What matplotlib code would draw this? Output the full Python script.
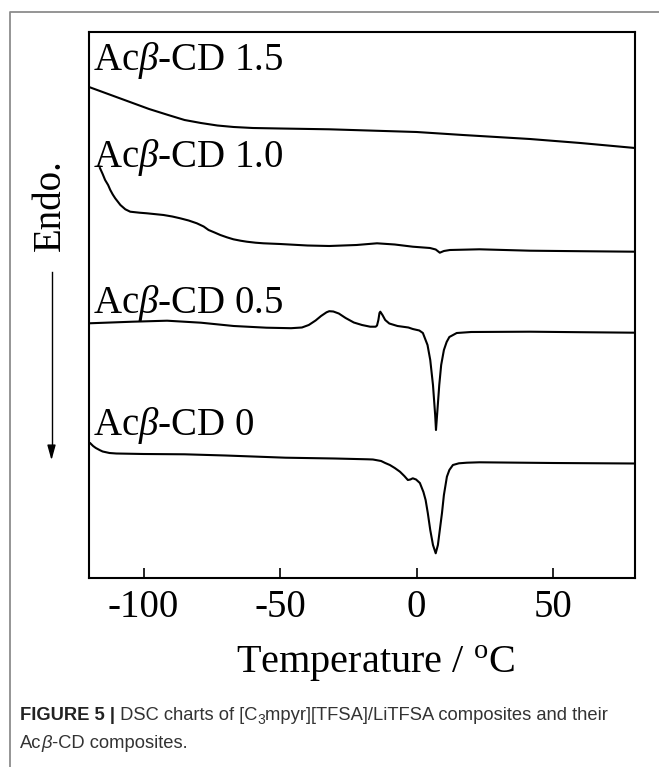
import matplotlib
matplotlib.use("Agg")
import matplotlib.pyplot as plt
from matplotlib.transforms import IdentityTransform
from matplotlib.lines import Line2D

plt.rcParams['font.family'] = 'Liberation Serif'
plt.rcParams['mathtext.fontset'] = 'custom'
plt.rcParams['mathtext.rm'] = 'Liberation Serif'
plt.rcParams['mathtext.it'] = 'Liberation Serif:italic'
plt.rcParams['mathtext.bf'] = 'Liberation Serif:bold'

# DSC traces (temperature in C, heat flow in a.u., offset)
t_15 = [-120, -116, -112, -108, -104, -98, -91, -85, -79, -73, -67, -60, -50, -32, 0, 17, 41.5, 60, 80]
h_15 = [491, 487, 483, 479, 475, 469, 463, 458, 455, 452.5, 451, 450, 449.5, 448.7, 446, 443, 439, 435, 430]

t_10 = [-116, -115, -114.1, -113, -112.2, -111.3, -110.4, -108.5, -106.7, -104.9, -101.5, -98.8,
        -92.7, -89.5, -86.6, -83.5, -80.5, -78, -76.2, -74, -71.9, -69.5, -67.1, -64.5, -62.2,
        -59, -56.1, -50, -40, -32, -22, -14.5, -8, -1.4, 4.9, 7, 8.5, 10, 12.2, 23,
        41.5, 60, 80]
h_10 = [410, 404, 398, 393, 388, 383.5, 379.7, 373, 368.7, 366.3, 365.3, 364.7,
        363, 361.5, 359.7, 357.5, 354.7, 351.5, 348, 345.5, 343, 340.7, 338.7, 337.3, 336.3,
        335.3, 334.7, 334, 332.5, 332, 333, 334.7, 333.5, 331.3, 330, 328.5, 325.3, 327, 328, 328.7,
        327.3, 326.8, 326.3]

t_05 = [-120, -104, -91.4, -79, -67, -55, -46, -42, -39.5, -37, -35, -33, -32, -30.5,
        -28.5, -26, -23, -20, -17, -15, -14.5, -14, -13.6, -13.3, -12.5, -11.5, -10, -7,
        -3, -1.4, 1, 2.3, 4, 5, 6, 6.8, 7.1, 7.5, 8.3, 9, 10, 11, 12, 14.7, 20, 41.5, 60, 80]
h_05 = [254.7, 256.3, 257.3, 255.3, 252, 250.3, 249.8, 250.5, 253, 257.5, 262, 265.7, 266.8, 266.5,
        264.5, 260, 255.5, 253, 251.3, 251.3, 252.5, 258, 265, 266.3, 263, 258, 254.5, 252,
        250.5, 249, 247.5, 245, 233, 218, 193, 163, 148, 163, 193, 213, 228, 236, 241, 245,
        246, 246.3, 245.8, 245.3]

t_00 = [-119.5, -118.5, -117.5, -116, -115, -112.5, -110, -100, -85, -70, -48, -30, -18,
        -16, -13, -11.5, -9.8, -8, -6.1, -4.5, -3.2, -2.3, -1.4, -0.2, 1.2, 2.5, 3.3, 4.1,
        5, 6, 7, 7.8, 8.5, 9.3, 10, 11.1, 12, 13.3, 15.5, 18.4, 23, 50, 80]
h_00 = [134.7, 132, 130, 127.8, 126.5, 125, 124.5, 124, 123.7, 122.5, 120.3, 119.5, 118.7,
        118.5, 117, 115, 113, 110, 106.3, 102, 98, 98.5, 99.7, 98.5, 95, 86, 78, 65,
        48, 33, 24.7, 33, 48, 65, 83, 101.3, 108, 113, 114.7, 115.3, 115.7, 115, 114.5]

curve_labels = ['Ac$\\beta$-CD 1.5', 'Ac$\\beta$-CD 1.0', 'Ac$\\beta$-CD 0.5', 'Ac$\\beta$-CD 0']
label_h = [508, 411, 265, 143]
xticks = [-100, -50, 0, 50]

W, H = 659, 767
fig = plt.figure(figsize=(W / 100, H / 100), dpi=100)
ax = fig.add_axes([89 / W, (H - 578) / H, (635 - 89) / W, (578 - 32) / H])

for t, h in [(t_15, h_15), (t_10, h_10), (t_05, h_05), (t_00, h_00)]:
    ax.plot(t, h, color='black', lw=1.5, solid_joinstyle='round')

for lab, y in zip(curve_labels, label_h):
    ax.text(-118.4, y, lab, fontsize=28, va='baseline', ha='left')

ax.set_xlim(-120, 80)
ax.set_ylim(0, 546)
ax.set_xticks(xticks)
ax.set_xticklabels([str(v) for v in xticks])
ax.set_yticks([])
ax.tick_params(axis='x', direction='in', length=7, width=1.2, labelsize=28, pad=8)
for s in ax.spines.values():
    s.set_linewidth(1.5)
ax.set_xlabel('Temperature / $^{\\rm o}$C', fontsize=29, labelpad=13)
ax.xaxis.label.set_x(0.525)

# y label and arrow
fig.text(50 / W, (H - 205) / H, 'Endo.', fontsize=28, rotation=90, ha='center', va='center')
fig.add_artist(Line2D([51.5, 51.5], [H - 272, H - 450], transform=IdentityTransform(),
                      color='black', lw=1))
ax.annotate('', xy=(51.5, H - 463), xytext=(51.5, H - 445), xycoords=IdentityTransform(),
            textcoords=IdentityTransform(),
            arrowprops=dict(arrowstyle='-|>,head_length=0.9,head_width=0.25', color='black', lw=1))

# outer frame (only left and top visible)
fig.add_artist(Line2D([9.5, 9.5, W + 5], [-5, H - 12, H - 12], transform=IdentityTransform(),
                      color='#8c8c8c', lw=1.3))

# caption
cap_font = ['Liberation Sans Narrow', 'Liberation Sans']
renderer = fig.canvas.get_renderer()


def put_runs(x, y, runs):
    for s, kw in runs:
        kw = dict(kw)
        dy = kw.pop('dy', 0)
        kw.setdefault('color', '#333333')
        t = fig.text(x, H - y + dy, s, transform=IdentityTransform(), va='baseline',
                     family=cap_font, **kw)
        x += t.get_window_extent(renderer=renderer).width


put_runs(20, 720, [('FIGURE 5 |', dict(fontsize=13.2, weight='bold', color='#222222')),
                   (' DSC charts of [C', dict(fontsize=13.2)),
                   ('3', dict(fontsize=10, dy=-4)),
                   ('mpyr][TFSA]/LiTFSA composites and their', dict(fontsize=13.2))])
put_runs(20, 748, [('Ac', dict(fontsize=13.2)),
                   ('\u03b2', dict(fontsize=13.2, style='italic')),
                   ('-CD composites.', dict(fontsize=13.2))])

fig.savefig('out.png', dpi=100)
